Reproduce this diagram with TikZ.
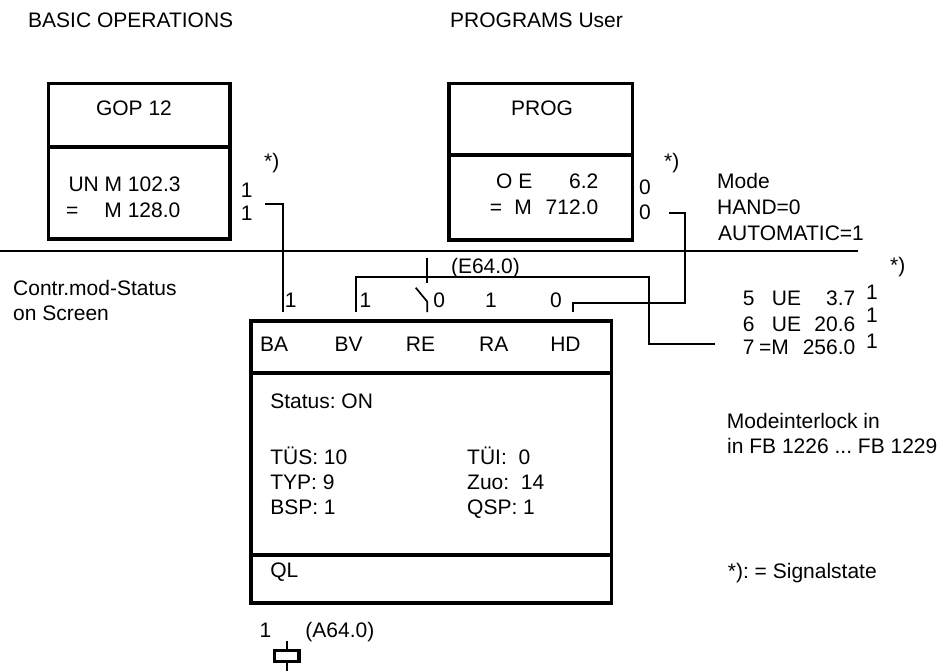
\documentclass[tikz,border=0pt]{standalone}
\usepackage{fontspec}
\setmainfont{Liberation Sans}
\usetikzlibrary{shapes}

\begin{document}
\begin{tikzpicture}[x=1pt, y=-1pt, font=\fontsize{21}{25}\selectfont\frenchspacing]
      \tikzstyle{point} = [coordinate]
      \tikzstyle{box} = [rectangle, draw, line width=3.6pt, inner sep=0pt]
      \tikzstyle{wire} = [line width=1.7pt]
      \tikzstyle{txt} = [inner sep=0pt, anchor=base west]
      \tikzstyle{txtr} = [inner sep=0pt, anchor=base east]
      \useasboundingbox (0,0) rectangle (944,671);
      % headings
      \node (basic) [txt] at (28,28) {BASIC OPERATIONS};
      \node (programs) [txt] at (450,28) {PROGRAMS User};
      % GOP block
      \node (gop) [box, minimum width=181.7pt, minimum height=155.4pt] at (139.4,161.2) {};
      \draw [line width=3.6pt] ([yshift=-65.6pt]gop.north west)--([yshift=-65.6pt]gop.north east);
      \node (goptitle) [txt, anchor=base] at (134,116) {GOP 12};
      \node (gopl1) [txt] at (68.3,192) {UN M 102.3};
      \node (gopl2) [txt] at (66,217) {=\hspace{26pt}M 128.0};
      \node (gops1) [txt] at (240.7,197) {1};
      \node (gops2) [txt] at (240.7,220) {1};
      \node (gopstar) [txt] at (264,169) {*)};
      % PROG block
      \node (prog) [box, minimum width=183.4pt, minimum height=156.4pt] at (540.8,161.7) {};
      \draw [line width=3.6pt] ([yshift=-73.3pt]prog.north west)--([yshift=-73.3pt]prog.north east);
      \node (progtitle) [txt, anchor=base] at (542,115.5) {PROG};
      \node (progl1) [txtr] at (598.5,189) {O E\hspace{36.7pt}6.2};
      \node (progl2) [txtr] at (598.5,214) {=\hspace{12.3pt}M\hspace{13.9pt}712.0};
      \node (progs1) [txt] at (639,194) {0};
      \node (progs2) [txt] at (639,219) {0};
      \node (progstar) [txt] at (664,169) {*)};
      \node (mode1) [txt] at (717,188.4) {Mode};
      \node (mode2) [txt] at (717,214.7) {HAND=0};
      \node (mode3) [txt] at (718,240) {AUTOMATIC=1};
      % screen border
      \node (ll) [point] at (0,251) {};
      \node (lr) [point] at (858.3,251) {};
      \draw [wire] (ll)--(lr);
      \node (scr1) [txt] at (13,295.5) {Contr.mod-Status};
      \node (scr2) [txt] at (13,320.5) {on Screen};
      \node (rstar) [txt] at (890,272.3) {*)};
      % module block
      \node (cm) [box, minimum width=360.4pt, minimum height=282.1pt] at (431.3,462.2) {};
      \draw [line width=3.6pt] ([yshift=-53.4pt]cm.north west)--([yshift=-53.4pt]cm.north east);
      \draw [line width=3.6pt] ([yshift=-235.7pt]cm.north west)--([yshift=-235.7pt]cm.north east);
      \node (lba) [txt] at (260,351) {BA};
      \node (lbv) [txt] at (334.4,351) {BV};
      \node (lre) [txt] at (405.7,351) {RE};
      \node (lra) [txt] at (479,351) {RA};
      \node (lhd) [txt] at (550.1,351) {HD};
      \node (status) [txt] at (270.1,408) {Status: ON};
      \node (tus) [txt] at (270.1,464) {TÜS: 10};
      \node (typ) [txt] at (270.1,489) {TYP: 9};
      \node (bsp) [txt] at (270.1,514) {BSP: 1};
      \node (tui) [txt] at (467,464) {TÜI:\ \ 0};
      \node (zuo) [txt] at (467,489) {Zuo:\ \ 14};
      \node (qsp) [txt] at (467,514) {QSP: 1};
      \node (ql) [txt] at (270.1,577) {QL};
      % terminals
      \node (ba) [point] at (282.7,312) {};
      \node (bv) [point] at (355.7,312) {};
      \node (re) [point] at (427.3,312) {};
      \node (hd) [point] at (573.3,312) {};
      \node (sba) [txt] at (284.7,307) {1};
      \node (sbv) [txt] at (359.4,307) {1};
      \node (sre) [txt] at (433.2,307) {0};
      \node (sra) [txt] at (485,307) {1};
      \node (shd) [txt] at (550,307) {0};
      % wiring
      \node (gopq) [point] at (265,204) {};
      \draw [wire] (gopq)-|(ba);
      \node (progq) [point] at (669.3,213.3) {};
      \node (progd) [point] at (685.3,303.3) {};
      \draw [wire] (progq)-|(progd)-|(hd);
      \node (m7) [point] at (715,344.3) {};
      \node (m7a) [point] at (649.3,276.7) {};
      \draw [wire] (m7)-|(m7a)-|(bv);
      % contact E64.0
      \node (e64a) [point] at (427.3,258.3) {};
      \node (e64b) [point] at (427.3,283.3) {};
      \node (rek) [point] at (415.7,287.7) {};
      \node (reh) [point] at (427.3,301.7) {};
      \draw [wire] (e64a)--(e64b);
      \draw [wire] (rek)--(reh)--(re);
      \node (e64) [txt] at (450.8,273) {(E64.0)};
      % mode list
      \node (m5) [txtr] at (855.5,305.5) {5\hspace{17.4pt}UE\hspace{25pt}3.7};
      \node (m6) [txtr] at (855.5,331) {6\hspace{17.4pt}UE\hspace{13.3pt}20.6};
      \node (m7t) [txtr] at (855.5,354.7) {7\hspace{4.6pt}=M\hspace{13.8pt}256.0};
      \node (s5) [txt] at (866,299) {1};
      \node (s6) [txt] at (866,322) {1};
      \node (s7) [txt] at (866,348) {1};
      \node (inter1) [txt] at (726.7,428) {Modeinterlock in};
      \node (inter2) [txt] at (727,453) {in FB 1226 ... FB 1229};
      \node (legend) [txt] at (727.7,578) {*): = Signalstate};
      % output relay
      \node (qs) [txt] at (259.4,637) {1};
      \node (a64) [txt] at (305.2,637) {(A64.0)};
      \node (relay) [box, line width=3.3pt, minimum width=24.7pt, minimum height=11pt] at (286.7,656.2) {};
      \node (qla) [point] at (286.7,640.7) {};
      \node (qlb) [point] at (286.7,671) {};
      \draw [wire] (qla)--(relay.north);
      \draw [wire] (relay.south)--(qlb);
\end{tikzpicture}
\end{document}
